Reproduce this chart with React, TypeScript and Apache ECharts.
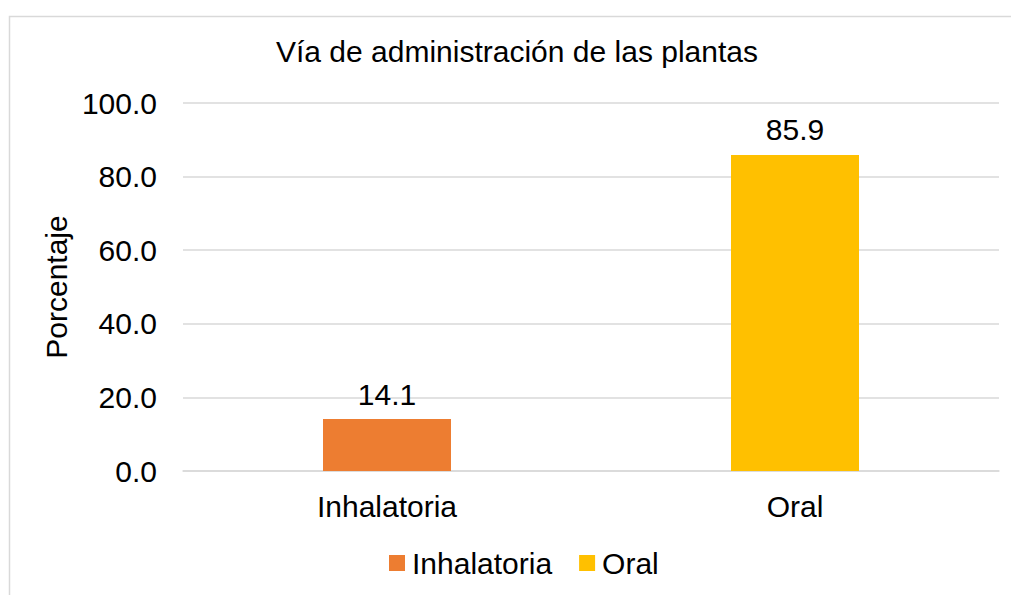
import React, { useEffect, useRef } from "react";
import * as echarts from "echarts";

const categories = ["Inhalatoria", "Oral"];
const seriesNames = ["Inhalatoria", "Oral"];
const inhalatoriaValues: (number | string)[] = [14.1, "-"];
const oralValues: (number | string)[] = ["-", 85.9];
const colors = ["#ED7D31", "#FFC000"];
const titleText = "Vía de administración de las plantas";
const yAxisName = "Porcentaje";

const FONT = '"Liberation Sans", Arial, sans-serif';
const FS = 30;

export default function App() {
  const ref = useRef<HTMLDivElement>(null);
  useEffect(() => {
    if (!ref.current) return;
    const chart = echarts.init(ref.current, undefined, { renderer: "svg" });
    const labelCfg = {
      show: true,
      position: "top" as const,
      distance: 10,
      fontSize: FS,
      color: "#000",
      fontFamily: FONT,
      formatter: (p: any) => Number(p.value).toFixed(1),
    };
    chart.setOption({
      animation: false,
      backgroundColor: "#fff",
      textStyle: { fontFamily: FONT },
      title: {
        text: titleText,
        left: 276,
        top: 36,
        padding: 0,
        textStyle: { fontSize: FS, fontWeight: "normal", color: "#000", fontFamily: FONT },
      },
      legend: {
        data: seriesNames,
        left: 389,
        top: 548,
        padding: 0,
        icon: "rect",
        itemWidth: 16,
        itemHeight: 16,
        itemGap: 27,
        textStyle: { fontSize: FS, color: "#000", fontFamily: FONT, padding: [0, 0, 0, 2] },
      },
      graphic: [
        {
          type: "rect",
          shape: { x: 9.5, y: 16.5, width: 1200, height: 800 },
          style: { fill: "none", stroke: "#d9d9d9", lineWidth: 1.5 },
          silent: true,
        },
      ],
      grid: { left: 183, right: 12, top: 103, bottom: 124, containLabel: false },
      xAxis: {
        type: "category",
        data: categories,
        axisLine: { show: true, lineStyle: { color: "#d9d9d9", width: 1.5 } },
        axisTick: { show: false },
        axisLabel: { fontSize: FS, color: "#000", fontFamily: FONT, margin: 20 },
      },
      yAxis: {
        type: "value",
        min: 0,
        max: 100,
        interval: 20,
        name: yAxisName,
        nameLocation: "middle",
        nameGap: 107,
        nameTextStyle: { fontSize: FS, color: "#000", fontFamily: FONT },
        axisLine: { show: false },
        axisTick: { show: false },
        axisLabel: {
          fontSize: FS,
          color: "#000",
          fontFamily: FONT,
          margin: 26,
          formatter: (v: number) => v.toFixed(1),
        },
        splitLine: { lineStyle: { color: "#d9d9d9", width: 1.5 } },
      },
      series: [
        {
          name: seriesNames[0],
          type: "bar",
          stack: "s",
          data: inhalatoriaValues,
          barWidth: 128,
          itemStyle: { color: colors[0] },
          label: labelCfg,
        },
        {
          name: seriesNames[1],
          type: "bar",
          stack: "s",
          data: oralValues,
          barWidth: 128,
          itemStyle: { color: colors[1] },
          label: labelCfg,
        },
      ],
    });
    return () => chart.dispose();
  }, []);
  return (
    <div
      ref={ref}
      style={{ position: "fixed", left: 0, top: 0, width: 1011, height: 595 }}
    />
  );
}
